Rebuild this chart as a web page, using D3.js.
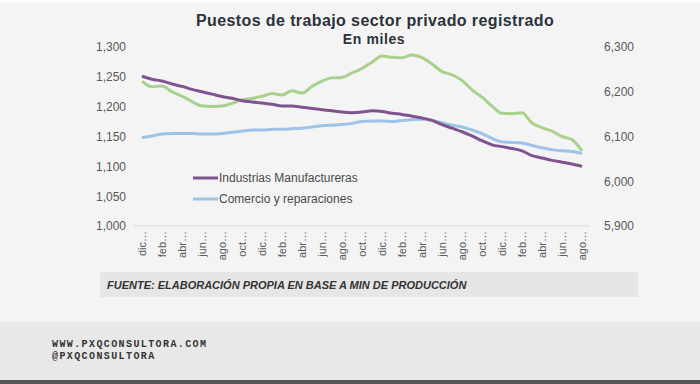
<!DOCTYPE html>
<html>
<head>
<meta charset="utf-8">
<script src="https://cdn.jsdelivr.net/npm/d3@7"></script>
<style>
  body { margin:0; background:#f4f4f4; }
  svg { display:block; font-family:"Liberation Sans", Arial, sans-serif; }
</style>
</head>
<body>
<div id="chart"></div>
<script>
// meses (dic-15 a ago-19)
var months = ['dic-15','ene-16','feb-16','mar-16','abr-16','may-16','jun-16','jul-16','ago-16','sep-16','oct-16','nov-16',
  'dic-16','ene-17','feb-17','mar-17','abr-17','may-17','jun-17','jul-17','ago-17','sep-17','oct-17','nov-17',
  'dic-17','ene-18','feb-18','mar-18','abr-18','may-18','jun-18','jul-18','ago-18','sep-18','oct-18','nov-18',
  'dic-18','ene-19','feb-19','mar-19','abr-19','may-19','jun-19','jul-19','ago-19']

var industria = [1251,1246,1243,1238,1234,1229,1225,1221,1217,1214,1210,1208,1206,1204,1201,1201,1199,1197,1195,1193,
  1191,1190,1191,1193,1192,1189,1187,1184,1181,1177,1170,1164,1158,1151,1143,1136,1133,1130,1126,1118,1114,1110,1107,1104,1100]

var comercio = [1148,1151,1154,1155,1155,1155,1154,1154,1155,1157,1159,1161,1161,1162,1162,1163,1164,1166,1168,1169,
  1170,1172,1175,1176,1176,1175,1177,1178,1179,1177,1173,1169,1166,1161,1155,1147,1141,1140,1139,1135,1131,1128,1126,1125,1122]

// total sector privado (eje derecho)
var total = [6224,6211,6213,6200,6190,6178,6168,6167,6168,6174,6182,6185,6190,6196,6193,6202,6197,6212,6224,6231,
  6232,6242,6252,6266,6280,6277,6276,6282,6276,6262,6245,6238,6225,6204,6188,6168,6152,6151,6153,6130,6120,6112,6100,6093,6068]

var leftTicks = [1000,1050,1100,1150,1200,1250,1300]
var rightTicks = [5900,6000,6100,6200,6300]

var width = 700, height = 384

var svg = d3.select('#chart').append('svg')
  .attr('width', width)
  .attr('height', height)

svg.append('rect').attr('width', width).attr('height', height).attr('fill', '#f4f4f4')
svg.append('rect').attr('width', width).attr('height', 3).attr('fill', '#fbfbfb')

var x = d3.scaleLinear().domain([0, months.length - 1]).range([142, 582])
var yL = d3.scaleLinear().domain([1000, 1300]).range([226, 47])
var yR = d3.scaleLinear().domain([5900, 6300]).range([226, 47])

// titulo
svg.append('text')
  .attr('x', 375).attr('y', 26)
  .attr('text-anchor', 'middle')
  .attr('font-size', 16).attr('font-weight', 'bold')
  .attr('letter-spacing', 0.4)
  .attr('fill', '#2b323b')
  .text('Puestos de trabajo sector privado registrado')
svg.append('text')
  .attr('x', 374).attr('y', 44)
  .attr('text-anchor', 'middle')
  .attr('font-size', 14).attr('font-weight', 'bold')
  .attr('letter-spacing', 0.6)
  .attr('fill', '#2b323b')
  .text('En miles')

// ejes
var axL = svg.append('g')
  .attr('transform', 'translate(126,0)')
  .call(d3.axisLeft(yL).tickValues(leftTicks).tickFormat(d3.format(',')).tickSize(0).tickPadding(0))
var axR = svg.append('g')
  .attr('transform', 'translate(604,0)')
  .call(d3.axisRight(yR).tickValues(rightTicks).tickFormat(d3.format(',')).tickSize(0).tickPadding(0))
;[axL, axR].forEach(function(a){
  a.select('.domain').remove()
  a.selectAll('text').attr('font-size', 12).attr('fill', '#595959')
    .attr('font-family', '"Liberation Sans", Arial, sans-serif')
})

var axX = svg.append('g')
  .attr('transform', 'translate(0,226)')
  .call(d3.axisBottom(x)
    .tickValues(d3.range(0, months.length, 2))
    .tickFormat(function(i){ return months[i].slice(0, 3) + '…' })
    .tickSize(0).tickPadding(0))
axX.select('.domain').attr('stroke', '#d9d9d9').attr('d', 'M134,0H590')
axX.selectAll('text')
  .attr('font-size', 11).attr('fill', '#595959')
  .attr('font-family', '"Liberation Sans", Arial, sans-serif')
  .attr('transform', 'rotate(-90)')
  .attr('text-anchor', 'end')
  .attr('dx', '-5').attr('dy', '0.35em').attr('y', 0)

// lineas
var lineL = d3.line().x(function(d, i){ return x(i) }).y(function(d){ return yL(d) }).curve(d3.curveMonotoneX)
var lineR = d3.line().x(function(d, i){ return x(i) }).y(function(d){ return yR(d) }).curve(d3.curveMonotoneX)

svg.append('path').datum(total).attr('d', lineR)
  .attr('fill', 'none').attr('stroke', '#a9d18e').attr('stroke-width', 3)
svg.append('path').datum(comercio).attr('d', lineL)
  .attr('fill', 'none').attr('stroke', '#9dc3e6').attr('stroke-width', 3)
svg.append('path').datum(industria).attr('d', lineL)
  .attr('fill', 'none').attr('stroke', '#7f5390').attr('stroke-width', 3)

// leyenda
var legend = [
  {name: 'Industrias Manufactureras', color: '#7f5390'},
  {name: 'Comercio y reparaciones', color: '#9dc3e6'}
]
var lg = svg.selectAll('.lg').data(legend).enter().append('g')
  .attr('transform', function(d, i){ return 'translate(193,' + (178 + i * 21) + ')' })
lg.append('line').attr('x1', 0).attr('x2', 25)
  .attr('stroke', function(d){ return d.color }).attr('stroke-width', 3)
lg.append('text').attr('x', 26).attr('y', 4)
  .attr('font-size', 12).attr('fill', '#4a4a4a')
  .text(function(d){ return d.name })

// fuente
svg.append('rect').attr('x', 100).attr('y', 272).attr('width', 538).attr('height', 25).attr('fill', '#e6e6e6')
svg.append('text')
  .attr('x', 107).attr('y', 289)
  .attr('font-size', 11).attr('font-weight', 'bold').attr('font-style', 'italic')
  .attr('fill', '#333')
  .text('FUENTE:  ELABORACIÓN PROPIA EN BASE A MIN DE PRODUCCIÓN')

// pie
svg.append('rect').attr('x', 0).attr('y', 322).attr('width', width).attr('height', 58).attr('fill', '#e8e8e8')
svg.append('rect').attr('x', 0).attr('y', 380).attr('width', width).attr('height', 4).attr('fill', '#555')
svg.append('text').attr('x', 52).attr('y', 347)
  .attr('font-family', '"Liberation Mono", "DejaVu Sans Mono", monospace')
  .attr('font-size', 10).attr('font-weight', 'bold').attr('letter-spacing', 1.4)
  .attr('fill', '#333')
  .text('WWW.PXQCONSULTORA.COM')
svg.append('text').attr('x', 52).attr('y', 359)
  .attr('font-family', '"Liberation Mono", "DejaVu Sans Mono", monospace')
  .attr('font-size', 10).attr('font-weight', 'bold').attr('letter-spacing', 1.4)
  .attr('fill', '#333')
  .text('@PXQCONSULTORA')
</script>
</body>
</html>
